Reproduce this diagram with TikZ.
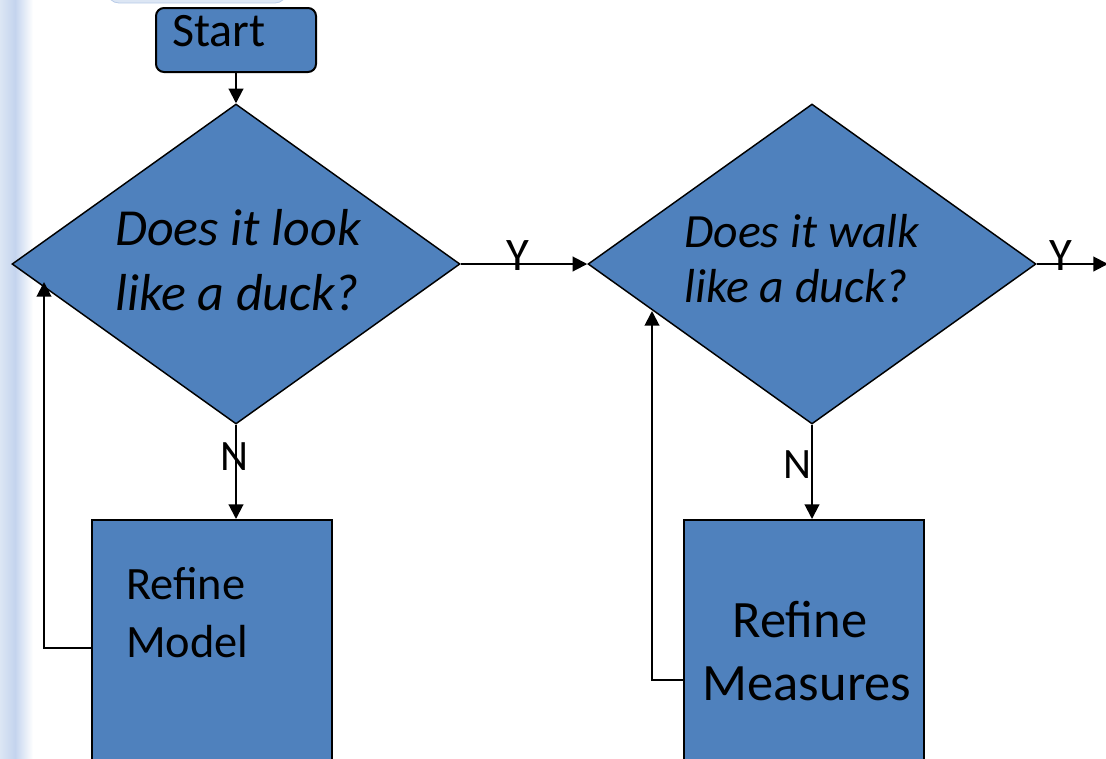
\documentclass[tikz,border=0pt]{standalone}
\usepackage{fontspec}
\setmainfont{Carlito}
\usetikzlibrary{shapes.geometric,arrows.meta}

\definecolor{boxblue}{HTML}{4F81BD}
\definecolor{paleblue}{HTML}{DCE6F4}
\definecolor{midblue}{HTML}{C4D4EE}
\definecolor{rimblue}{HTML}{B9CCE8}

\tikzset{
  flowbox/.style={draw=black, line width=1.5pt, fill=boxblue, inner sep=0pt},
  decision/.style={diamond, draw=black, line width=1.1pt, fill=boxblue, inner sep=0pt,
    minimum width=336pt, minimum height=240pt},
  txt/.style={inner sep=0pt, anchor=base west, text=black},
  ctxt/.style={inner sep=0pt, anchor=base, text=black},
  flow/.style={line width=1.5pt, -{Triangle[length=11pt,width=11pt]}},
  plain/.style={line width=1.5pt}
}

\begin{document}
\begin{tikzpicture}[x=0.75pt, y=-0.75pt]
  \useasboundingbox (0,0) rectangle (1106,758);
  \clip (0,0) rectangle (1106,758);

  % pale margin strip on the left
  \shade[left color=paleblue, right color=midblue] (0,0) rectangle (15,758);
  \shade[left color=midblue, right color=white] (15,0) rectangle (33,758);
  % edge of a rounded panel above the page
  \draw[draw=rimblue, fill=paleblue, rounded corners=9pt, line width=0.6pt]
    (107,-40) rectangle (287,3);

  % shapes
  \node[flowbox, rounded corners=6pt, minimum width=120pt, minimum height=48pt]
    (start) at (236,40) {};
  \node[decision] (look) at (236,264) {};
  \node[decision] (walk) at (812,264) {};
  \node[flowbox, minimum width=180pt, minimum height=225pt] (model) at (212,670) {};
  \node[flowbox, minimum width=180pt, minimum height=225pt] (measures) at (804,670) {};

  % texts
  \node[txt, font=\fontsize{36}{40}\selectfont] (tstart) at (172,46) {Start};
  \node[txt, font=\fontsize{39}{45}\selectfont\itshape] (tlookA) at (115,245) {Does it look};
  \node[txt, font=\fontsize{39}{45}\selectfont\itshape] (tlookB) at (115,310) {like a duck?};
  \node[txt, font=\fontsize{35.8}{40}\selectfont\itshape] (twalkA) at (684,247) {Does it walk};
  \node[txt, font=\fontsize{35.8}{40}\selectfont\itshape] (twalkB) at (684,302) {like a duck?};
  \node[txt, font=\fontsize{34.8}{40}\selectfont] (tmodelA) at (126,599) {Refine};
  \node[txt, font=\fontsize{34.8}{40}\selectfont] (tmodelB) at (126,657) {Model};
  \node[ctxt, font=\fontsize{39.4}{45}\selectfont] (tmeasA) at (800,637) {Refine};
  \node[ctxt, font=\fontsize{39.4}{45}\selectfont] (tmeasB) at (807,700) {Measures};

  % free ends of connectors
  \coordinate (exit) at (1108,264);
  \coordinate (loopAcorner) at (44,648);
  \coordinate (loopAtip) at (44,282);
  \coordinate (loopBcorner) at (652,680);
  \coordinate (loopBtip) at (652,311);

  % connectors
  \draw[flow] (start.south) -- (look.north);
  \draw[flow] (look.east) -- (walk.west);
  \draw[flow] (walk.east) -- (exit);
  \draw[flow] (look.south) -- (look.south |- model.north);
  \draw[flow] (walk.south) -- (walk.south |- measures.north);
  \draw[flow] (model.west |- loopAcorner) -- (loopAcorner) -- (loopAtip);
  \draw[flow] (measures.west |- loopBcorner) -- (loopBcorner) -- (loopBtip);

  % branch labels
  \node[ctxt, font=\fontsize{35}{40}\selectfont] (yes1) at (518,270) {Y};
  \node[ctxt, font=\fontsize{35}{40}\selectfont] (yes2) at (1061,270) {Y};
  \node[ctxt, font=\fontsize{32.5}{38}\selectfont] (no1) at (234,470) {N};
  \node[ctxt, font=\fontsize{32.5}{38}\selectfont] (no2) at (797,478) {N};
\end{tikzpicture}
\end{document}
